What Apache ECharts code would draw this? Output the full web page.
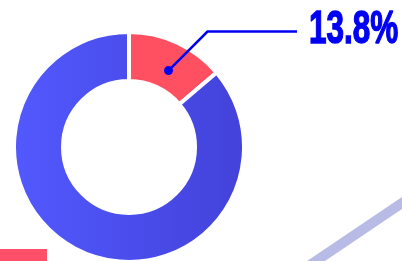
<!DOCTYPE html>
<html>
<head>
<meta charset="utf-8">
<script src="https://cdn.jsdelivr.net/npm/echarts@6/dist/echarts.min.js"></script>
<style>
  html, body { margin: 0; padding: 0; background: #fff; }
  #chart { width: 402px; height: 261px; }
</style>
</head>
<body>
<div id="chart"></div>
<script>
// share of the total, in percent
const names = ['Highlighted', 'Rest']
const values = [13.8, 86.2]
const sliceColors = ['#ff5062', null] // null -> gradient blue

const CENTER = [129, 147]
const RADII = [66, 115]
const INK = '#0000f2'

const chart = echarts.init(document.getElementById('chart'))

// leader line starts inside the red slice, bends at 45deg, then runs flat
const total = values.reduce((a, b) => a + b, 0)
const anchorAngle = (values[0] / total) * 360 * 0.55 * Math.PI / 180
const anchorR = 86
const dot = [
  CENTER[0] + anchorR * Math.sin(anchorAngle),
  CENTER[1] - anchorR * Math.cos(anchorAngle)
]
const elbow = [dot[0] + 39, dot[1] - 39]
const lineEnd = [297, elbow[1]]

const blueGradient = new echarts.graphic.LinearGradient(0, 0, 1, 0, [
  { offset: 0, color: '#5259fe' },
  { offset: 1, color: '#4342da' }
])

chart.setOption({
  animation: false,
  graphic: [
    // decorative bits
    { type: 'rect', z: 100, shape: { x: 0, y: 249, width: 47, height: 14 }, style: { fill: '#ff4f69' } },
    { type: 'line', z: 100, shape: { x1: 296, y1: 274.5, x2: 431, y2: 183.5 }, style: { stroke: '#b9bbe7', lineWidth: 10 } },
    // callout
    { type: 'polyline', z: 100, shape: { points: [dot, elbow, lineEnd] }, style: { stroke: INK, lineWidth: 2.5, fill: null } },
    { type: 'circle', z: 101, shape: { cx: dot[0], cy: dot[1], r: 4.5 }, style: { fill: INK } },
    {
      type: 'text', z: 101, x: 309, y: 30, scaleX: 0.67,
      style: {
        text: values[0] + '%',
        fill: INK,
        stroke: INK,
        lineWidth: 1.5,
        font: 'bold 47px "Liberation Sans", Arial, sans-serif',
        align: 'left',
        verticalAlign: 'middle'
      }
    }
  ],
  series: [{
    type: 'pie',
    center: CENTER,
    radius: RADII,
    startAngle: 90,
    clockwise: true,
    silent: true,
    emphasis: { disabled: true },
    itemStyle: { borderColor: '#fff', borderWidth: 4 },
    label: { show: false },
    labelLine: { show: false },
    data: values.map((v, i) => ({
      name: names[i],
      value: v,
      itemStyle: { color: sliceColors[i] || blueGradient }
    }))
  }]
})
</script>
</body>
</html>
